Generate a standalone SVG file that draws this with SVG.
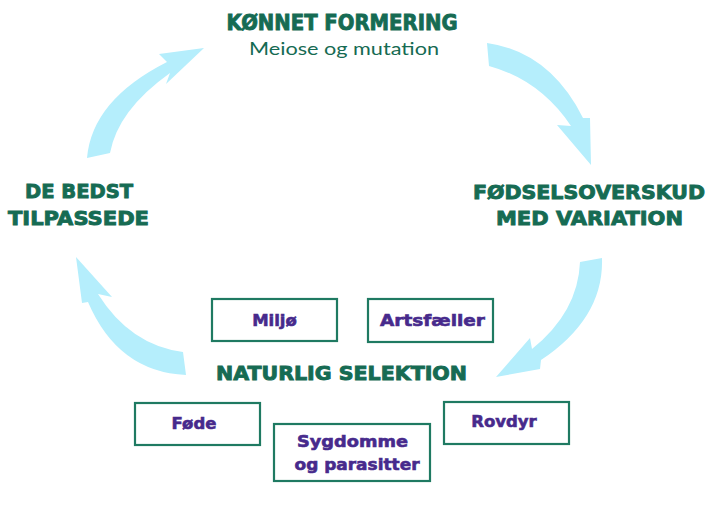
<svg xmlns="http://www.w3.org/2000/svg" width="706" height="512" viewBox="0 0 706 512">
<style>
.h{font-family:"DejaVu Sans","Liberation Sans",sans-serif;font-weight:bold;fill:#166b53;stroke:#166b53;stroke-width:0.9;text-anchor:middle}
.s{font-family:"Lato","Liberation Sans",sans-serif;fill:#166b53;text-anchor:middle;font-size:18px}
.b{fill:#fff;stroke:#1f7a62;stroke-width:2.2}
.l{font-family:"DejaVu Sans","Liberation Sans",sans-serif;font-weight:bold;fill:#472a8c;stroke:#472a8c;stroke-width:0.6;text-anchor:middle;font-size:16.5px}
.a{fill:#b5eefc}
</style>
<rect width="706" height="512" fill="#fff"/>
<g id="connectors">
<path class="a" d="M87,158 Q92,100 167,62 L159,54 L204,48 L166,84 L170,73 Q118,110 110,153 Z"/>
<path class="a" d="M487,43 Q550,52 583,118 L590,118 L591,165 L557,125 L571,126 Q540,80 489,66 Z"/>
<path class="a" d="M580,262 L602,258 Q604,318 541,360 L540,369 L496,377 L530,338 L532,349 Q578,312 580,262 Z"/>
<path class="a" d="M76,257 L112,297 L98,294 Q130,345 183,352 L186,375 Q118,372 88,302 L82,303 Z"/>
</g>
<g id="konnet">
<text class="h" x="342" y="30" font-size="21" textLength="231" lengthAdjust="spacingAndGlyphs">KØNNET FORMERING</text>
<text class="s" x="344" y="55" textLength="190" lengthAdjust="spacingAndGlyphs">Meiose og mutation</text>
</g>
<g id="fodsel">
<text class="h" x="589" y="199" font-size="19" textLength="232" lengthAdjust="spacingAndGlyphs">FØDSELSOVERSKUD</text>
<text class="h" x="589.5" y="225" font-size="19" textLength="187" lengthAdjust="spacingAndGlyphs">MED VARIATION</text>
</g>
<g id="bedst">
<text class="h" x="79" y="198" font-size="19" textLength="108" lengthAdjust="spacingAndGlyphs">DE BEDST</text>
<text class="h" x="78.5" y="225" font-size="19" textLength="141" lengthAdjust="spacingAndGlyphs">TILPASSEDE</text>
</g>
<g id="naturlig">
<text class="h" x="341.5" y="380" font-size="19" textLength="251" lengthAdjust="spacingAndGlyphs">NATURLIG SELEKTION</text>
</g>
<g id="miljo">
<rect class="b" x="212" y="299" width="125" height="42"/>
<text class="l" x="274.5" y="326">Miljø</text>
</g>
<g id="artsfaeller">
<rect class="b" x="368" y="299" width="125" height="43"/>
<text class="l" x="432.5" y="326" textLength="105" lengthAdjust="spacingAndGlyphs">Artsfæller</text>
</g>
<g id="fode">
<rect class="b" x="135" y="403" width="125" height="42"/>
<text class="l" x="194" y="429">Føde</text>
</g>
<g id="sygdomme">
<rect class="b" x="274" y="424" width="156" height="57"/>
<text class="l" x="352.5" y="447" textLength="111" lengthAdjust="spacingAndGlyphs">Sygdomme</text>
<text class="l" x="357" y="470" textLength="125" lengthAdjust="spacingAndGlyphs">og parasitter</text>
</g>
<g id="rovdyr">
<rect class="b" x="444" y="402" width="125" height="42"/>
<text class="l" x="504" y="427">Rovdyr</text>
</g>
</svg>
